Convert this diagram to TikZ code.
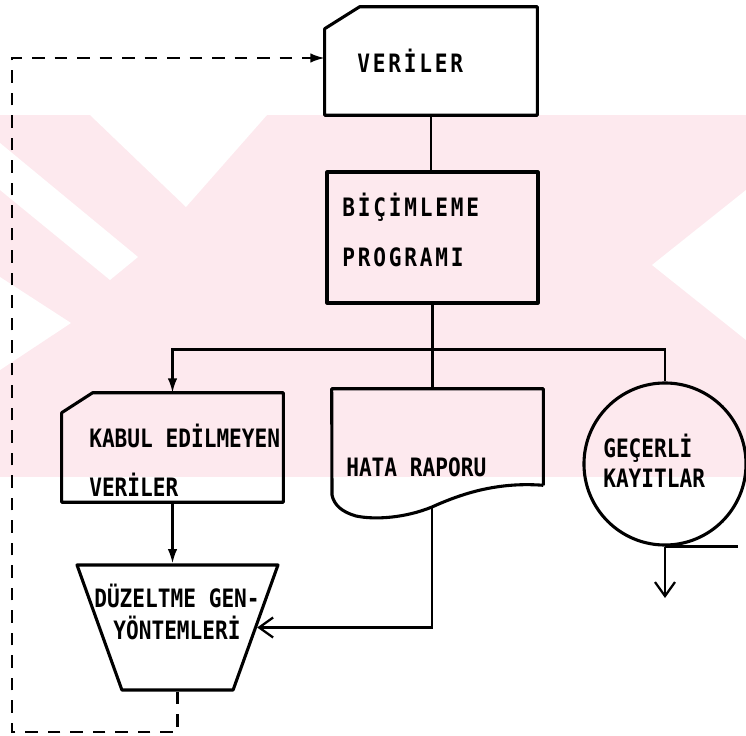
\documentclass[tikz,border=0pt]{standalone}
\usepackage{fontspec}
\newfontfamily\flowfont[FakeStretch=0.835]{DejaVu Sans Mono}
\newfontfamily\flowfontwide[FakeStretch=0.835,LetterSpace=11]{DejaVu Sans Mono}
\usetikzlibrary{arrows.meta,positioning,calc,shapes.geometric}
\definecolor{wmpink}{RGB}{253,233,238}
\tikzset{
  shapebox/.style={draw=none, inner sep=0pt},
  outline/.style={draw=black, line width=2.2pt, line join=round},
  flow/.style={draw=black, line width=1.6pt},
  feedback/.style={draw=black, line width=1.6pt, dash pattern=on 9pt off 7pt},
  boxtext/.style={anchor=west, align=left, inner sep=0pt,
    font=\flowfont\bfseries\fontsize{18}{35}\selectfont},
  widetext/.style={boxtext, font=\flowfontwide\bfseries\fontsize{18}{35}\selectfont},
  filltip/.style={-{Latex[length=3.6mm,width=2.4mm]}},
  opentip/.style={-{Straight Barb[length=3.5mm,width=5mm]}},
}
\newcommand{\cardoutline}[3]{\draw[outline] ([xshift=#2]#1.north west) -- (#1.north east)
  -- (#1.south east) -- (#1.south west) -- ([yshift=-#3]#1.north west) -- cycle;}

\begin{document}
\begin{tikzpicture}[x=0.025cm, y=-0.025cm]

  \useasboundingbox (0,0) rectangle (746,736);

  \fill[wmpink] (0,115) rectangle (746,477);
  \fill[white] (90,115) -- (267,115) -- (186,207) -- cycle;
  \fill[white] (0,143) -- (138,257) -- (110,280) -- (0,190) -- cycle;
  \fill[white] (0,277) -- (71,323) -- (0,370) -- cycle;
  \fill[white] (746,190) -- (652,265) -- (746,340) -- cycle;

  \node[shapebox, minimum width=5.3cm, minimum height=2.7cm] (verdata) at (431,61) {};
  \cardoutline{verdata}{0.875cm}{0.55cm}
  \node[widetext] (verdatatxt) at (357,61) {VERİLER};

  \node[shapebox, outline, minimum width=5.275cm, minimum height=3.275cm] (bicim) at (432.5,237.5) {};
  \node[widetext] (bicimtxt) at (342,230) {BİÇİMLEME\\PROGRAMI};

  \node[shapebox, minimum width=5.525cm, minimum height=2.725cm] (kabul) at (172.5,447.5) {};
  \cardoutline{kabul}{0.775cm}{0.5cm}
  \node[boxtext] (kabultxt) at (89,460) {KABUL EDİLMEYEN\\VERİLER};

  \node[shapebox, minimum width=5.275cm, minimum height=2.4cm] (hata) at (437.5,437) {};
  \coordinate (hataout) at (432,507);
  \draw[outline] (hata.south east) -- (hata.north east) -- (hata.north west) -- (332,495)
    .. controls (334,505) and (342,512) .. (356,516)
    .. controls (375,520) and (405,518) .. (hataout)
    .. controls (465,492) and (500,482) .. (hata.south east);
  \node[boxtext] (hatatxt) at (346,467) {HATA RAPORU};

  \node[trapezium, trapezium left angle=112, trapezium right angle=112,
    trapezium stretches=true, outline, inner sep=2pt,
    minimum width=5.025cm, minimum height=3.125cm] (duzelt) at (177.5,627.5) {};
  \node[boxtext, anchor=center, align=center,
    font=\flowfont\bfseries\fontsize{18}{22.8}\selectfont] (duzelttxt) at (177,612) {DÜZELTME GEN-\\YÖNTEMLERİ};

  \node[circle, outline, minimum size=4.05cm, inner sep=0pt] (kayit) at (665,464) {};
  \node[boxtext, font=\flowfont\bfseries\fontsize{18}{21.3}\selectfont] (kayittxt) at (603,461) {GEÇERLİ\\KAYITLAR};
  \coordinate (kayitout) at (665,598);

  \draw[flow] (verdata.south) -- (verdata.south |- bicim.north);
  \draw[flow] (bicim.south) -- (bicim.south |- hata.north);
  \coordinate (split) at ($(bicim.south)+(0,45)$);
  \draw[flow, filltip] (split) -| (kabul.north);
  \draw[flow] (split) -| (kayit.north);
  \draw[flow, filltip] (kabul.south) -- (kabul.south |- duzelt.north);
  \draw[flow, opentip] (hataout) |- (duzelt);
  \draw[flow] (kayit.south) -- ++(73,0);
  \draw[flow, opentip] (kayit.south) -- (kayitout);

  \coordinate (fbbottom) at (12,732);
  \coordinate (fbtop) at (12,58);
  \draw[feedback, filltip] (duzelt.south) |- (fbbottom) -- (fbtop) -- (verdata.west |- fbtop);

\end{tikzpicture}
\end{document}
